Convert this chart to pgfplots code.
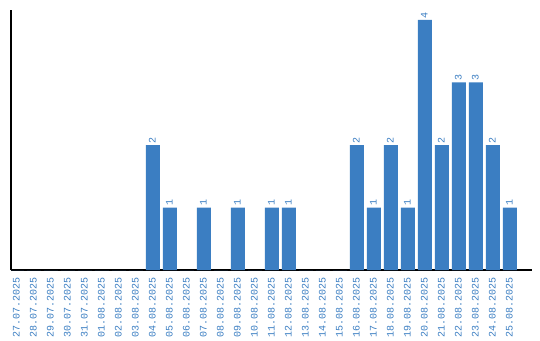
\documentclass[border=0pt]{standalone}
\usepackage{pgfplots}
\pgfplotsset{compat=1.18}
\usepackage{fontspec}
\setmainfont{Liberation Sans}
\newfontfamily\monofont{Liberation Mono}
\definecolor{barblue}{RGB}{59,126,194}
\begin{document}
\begin{tikzpicture}
\path[use as bounding box] (-11pt,-70pt) rectangle (529pt,270pt);
\begin{axis}[
  at={(0,0)}, anchor=south west,
  scale only axis, width=521pt, height=260pt,
  xmin=-0.35, xmax=30.3, ymin=0, ymax=4.16,
  axis x line*=bottom, axis y line*=left,
  axis line style={black, line width=1.3pt, -},
  ytick=\empty,
  xtick={0,...,29},
  major tick length=0pt,
  xticklabels={27.07.2025,28.07.2025,29.07.2025,30.07.2025,31.07.2025,01.08.2025,02.08.2025,03.08.2025,04.08.2025,05.08.2025,06.08.2025,07.08.2025,08.08.2025,09.08.2025,10.08.2025,11.08.2025,12.08.2025,13.08.2025,14.08.2025,15.08.2025,16.08.2025,17.08.2025,18.08.2025,19.08.2025,20.08.2025,21.08.2025,22.08.2025,23.08.2025,24.08.2025,25.08.2025},
  x tick label style={rotate=90, anchor=mid east, font=\monofont\fontsize{10}{10}\selectfont, text=barblue, inner sep=0pt, xshift=-7pt},
  ybar, bar width=14pt,
  point meta=explicit symbolic,
  nodes near coords,
  every node near coord/.append style={rotate=90, anchor=mid west, font=\monofont\fontsize{10}{10}\selectfont, text=barblue, inner sep=1.5pt},
]
\addplot[fill=barblue, draw=none] coordinates {
(0,0)[] (1,0)[] (2,0)[] (3,0)[] (4,0)[] (5,0)[] (6,0)[] (7,0)[]
(8,2)[2] (9,1)[1] (10,0)[] (11,1)[1] (12,0)[] (13,1)[1] (14,0)[]
(15,1)[1] (16,1)[1] (17,0)[] (18,0)[] (19,0)[] (20,2)[2] (21,1)[1]
(22,2)[2] (23,1)[1] (24,4)[4] (25,2)[2] (26,3)[3] (27,3)[3] (28,2)[2] (29,1)[1]
};
\end{axis}
\end{tikzpicture}
\end{document}
